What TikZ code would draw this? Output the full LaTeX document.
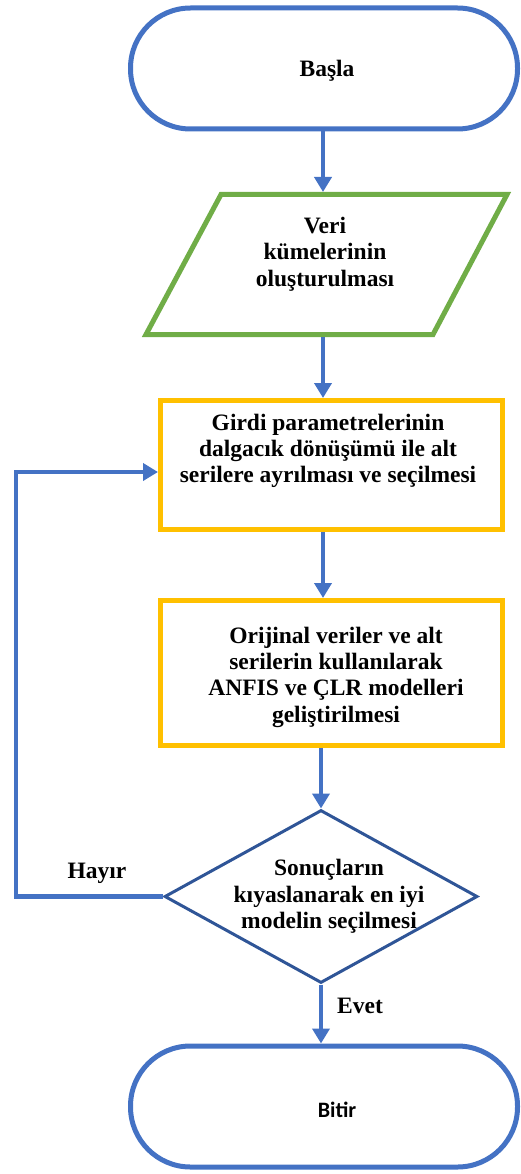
\documentclass[tikz,border=0pt]{standalone}
\usepackage{fontspec}
\setmainfont{Liberation Serif}
\newfontfamily\calib{Carlito}
\usetikzlibrary{arrows.meta,shapes.geometric}
\definecolor{arrblue}{HTML}{4472C4}
\definecolor{dkblue}{HTML}{2F5597}
\definecolor{grn}{HTML}{70AD47}
\definecolor{gold}{HTML}{FFC000}
\tikzset{
  terminal/.style={draw=arrblue, line width=5pt, rounded corners=60pt, minimum width=387pt, minimum height=121pt, inner sep=0pt},
  procbox/.style={draw=gold, line width=5pt, minimum width=342pt, inner sep=0pt},
  txt/.style={font=\bfseries\fontsize{23.5}{26.3}\selectfont, align=center, inner sep=0pt},
  flow/.style={draw=arrblue, line width=4.5pt, -{Triangle[width=17pt,length=15pt]}},
  decision/.style={draw=dkblue, line width=3pt, diamond, minimum width=313pt, minimum height=173pt, inner sep=0pt}
}
\begin{document}
\begin{tikzpicture}[x=1pt,y=-1pt]
\useasboundingbox (0,0) rectangle (521,1174);
% start
\node[terminal] (start) at (324,68.5) {};
\node[txt] (startt) at (327,71) {Başla};
% data parallelogram
\coordinate (dTL) at (221,194.5);
\coordinate (dTR) at (507,194.5);
\coordinate (dBR) at (433,334.5);
\coordinate (dBL) at (146,334.5);
\draw[grn, line width=5pt, line join=miter] (dTL) -- (dTR) -- (dBR) -- (dBL) -- cycle;
\coordinate (dataTop) at (323,192);
\coordinate (dataBot) at (323,337);
\node[txt] (datat) at (325,254) {Veri\\kümelerinin\\oluşturulması};
% box 1
\node[procbox, minimum height=129pt] (b1) at (331.5,465) {};
\node[txt] (b1t) at (328,451) {Girdi parametrelerinin\\dalgacık dönüşümü ile alt\\serilere ayrılması ve seçilmesi};
% box 2
\node[procbox, minimum height=145pt] (b2) at (331.5,673) {};
\node[txt] (b2t) at (336,677) {Orijinal veriler ve alt\\serilerin kullanılarak\\ANFIS ve ÇLR modelleri\\geliştirilmesi};
% decision
\node[decision] (dec) at (321,896.5) {};
\node[txt] (dect) at (329,896.5) {Sonuçların\\kıyaslanarak en iyi\\modelin seçilmesi};
% end
\node[terminal] (stop) at (324,1106.5) {};
\node[font=\calib\bfseries\fontsize{22}{26}\selectfont, inner sep=0pt] (stopt) at (337,1110) {Bitir};
% connectors
\draw[flow] (start.south -| dataTop) -- (dataTop);
\draw[flow] (dataBot) -- (dataBot |- b1.north);
\draw[flow] (b1.south -| dataBot) -- (dataBot |- b2.north);
\draw[flow] (b2.south -| dec.north) -- (dec.north);
\draw[flow] (dec.south) -- (dec.south |- stop.north);
\coordinate (fbL) at (16,896.5);
\coordinate (fbT) at (16,472);
\draw[flow, line join=miter] (dec.west) -- (fbL) -- (fbT) -- (fbT -| b1.west);
% labels
\node[txt, anchor=base] (hayir) at (97,878) {Hayır};
\node[txt, anchor=base west] (evet) at (337,1013) {Evet};
\end{tikzpicture}
\end{document}
